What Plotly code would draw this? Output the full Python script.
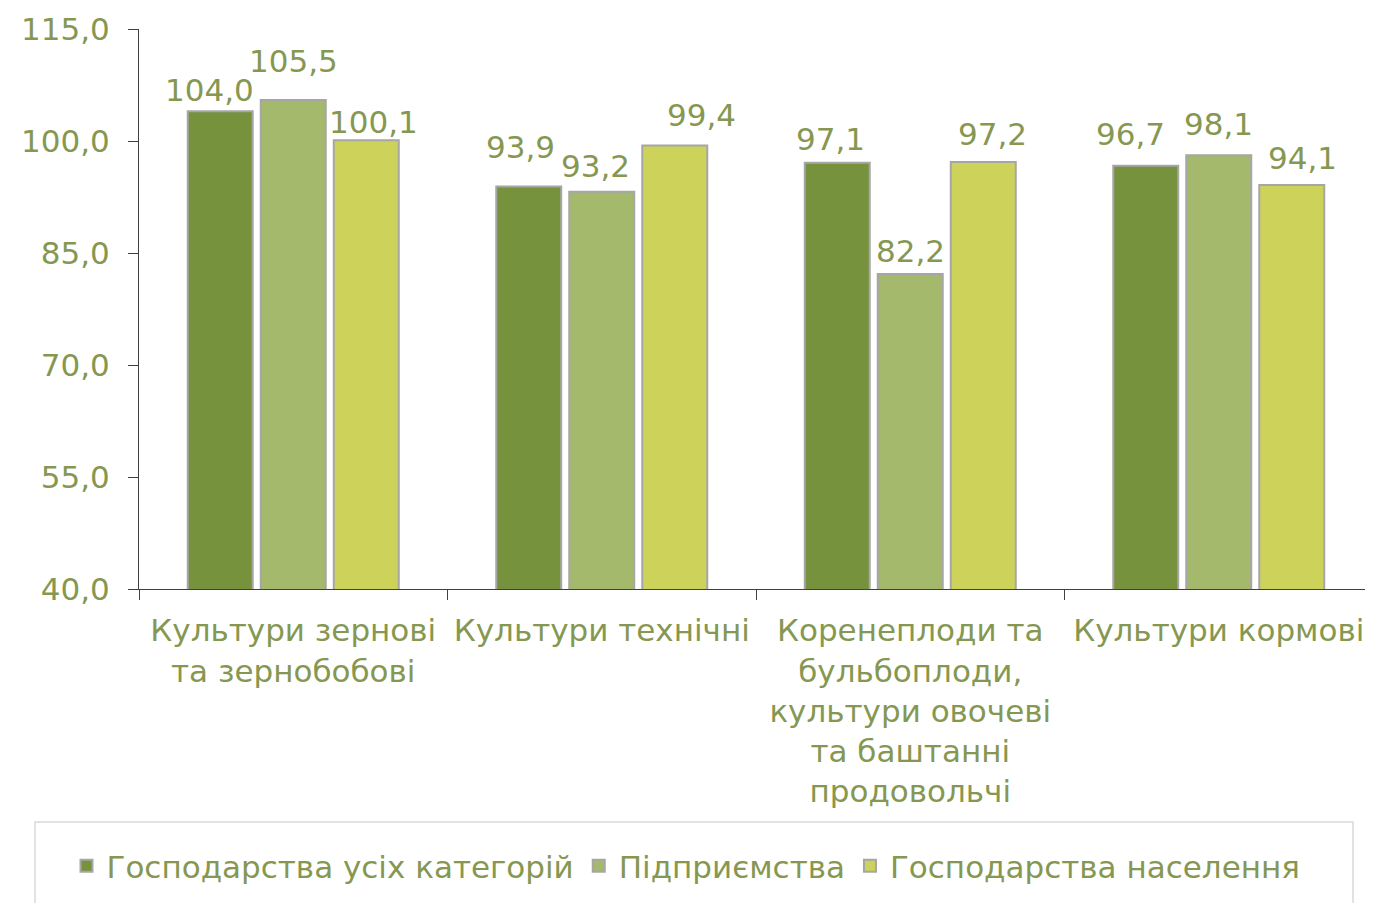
import plotly.graph_objects as go

categories = [
    "Культури зернові<br>та зернобобові",
    "Культури технічні",
    "Коренеплоди та<br>бульбоплоди,<br>культури овочеві<br>та баштанні<br>продовольчі",
    "Культури кормові",
]
series_names = ["Господарства усіх категорій", "Підприємства", "Господарства населення"]
all_categories = [104.0, 93.9, 97.1, 96.7]
enterprises = [105.5, 93.2, 82.2, 98.1]
households = [100.1, 99.4, 97.2, 94.1]
y_ticks = [40, 55, 70, 85, 100, 115]

# manual data-label nudges (pixels), as placed in the original chart
label_gap = [[10, 29, 13, 21], [28, 15, 12, 20], [7, 19, 17, 16]]
label_dx = [[-11, -8, -7, -15], [0, -6, 0, 0], [7, 27, 9, 11]]

colors = ["#76923C", "#A4B96B", "#CDD35A"]
text_color = "#869752"
font_family = "DejaVu Sans, Verdana, sans-serif"
fsize = 31

series_vals = [all_categories, enterprises, households]

fig = go.Figure()
for name, vals, col in zip(series_names, series_vals, colors):
    fig.add_trace(go.Bar(
        x=categories, y=vals, name=name,
        marker=dict(color=col, line=dict(color="#A6A6A6", width=2)),
        cliponaxis=False,
    ))

# page body has an 8px margin, so figure origin is at (8, 8) in the screenshot
OFF = 8
W, H = 1373 - OFF, 903 - OFF
ml, mr, mt, mb = 139 - OFF, 0, 29 - OFF, 903 - 589
pw = W - ml - mr
ph = H - mt - mb
bargap = 0.29
slot = pw / len(categories) * (1 - bargap) / len(series_vals)

for si, vals in enumerate(series_vals):
    for ci, v in enumerate(vals):
        fig.add_annotation(
            x=categories[ci], y=v, xref="x", yref="y",
            text=f"{v:.1f}".replace(".", ","), showarrow=False,
            xanchor="center", yanchor="bottom",
            xshift=(si - 1) * slot + label_dx[si][ci],
            yshift=label_gap[si][ci] - 9,
            font=dict(size=fsize, color=text_color, family=font_family),
        )

leg_y = (589 - 866) / ph

fig.update_layout(
    width=W, height=H,
    margin=dict(l=ml, r=mr, t=mt, b=mb, autoexpand=False),
    paper_bgcolor="white", plot_bgcolor="white",
    separators=", ",
    barmode="group", bargap=bargap, bargroupgap=0.11,
    font=dict(family=font_family, size=fsize, color=text_color),
    showlegend=True,
    legend=dict(orientation="h", x=(686 - 139) / pw, xanchor="center", y=leg_y, yanchor="middle",
                font=dict(size=fsize, color=text_color, family=font_family),
                itemwidth=30, traceorder="normal", bgcolor="rgba(0,0,0,0)"),
    xaxis=dict(showline=True, linecolor="#404040", linewidth=1,
               ticks="outside", ticklen=10, tickcolor="#404040", tickson="boundaries",
               tickfont=dict(size=fsize, color=text_color, family=font_family),
               ticklabelstandoff=14, showgrid=False),
    yaxis=dict(range=[40, 115], tickvals=y_ticks, tickformat=".1f",
               showline=True, linecolor="#404040", linewidth=1,
               ticks="outside", ticklen=10, tickcolor="#404040",
               tickfont=dict(size=fsize, color=text_color, family=font_family),
               ticklabelstandoff=12, showgrid=False, zeroline=False),
)

# legend frame
x0 = (35 - 139) / pw
x1 = (1353 - 139) / pw
y0 = (589 - 920) / ph
y1 = (589 - 822) / ph
fig.add_shape(type="rect", xref="paper", yref="paper", x0=x0, x1=x1, y0=y0, y1=y1,
              line=dict(color="#D9D9D9", width=1.5), fillcolor="rgba(0,0,0,0)", layer="below")

fig.write_html("out.html")
